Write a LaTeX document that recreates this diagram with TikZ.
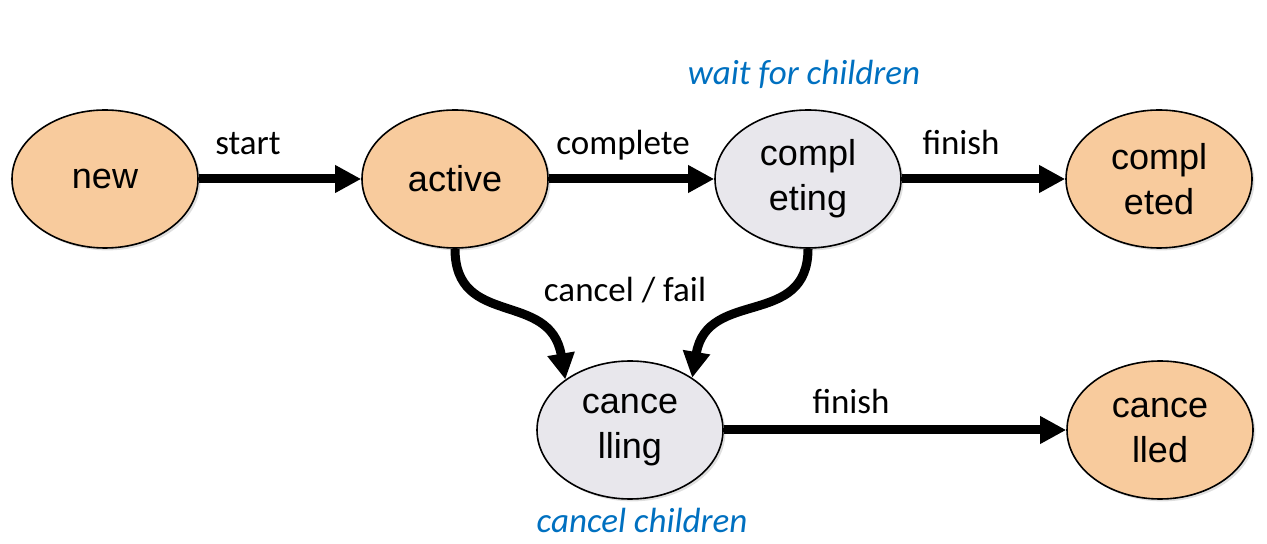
\documentclass[tikz,border=0pt]{standalone}
\usepackage{fontspec}
\setmainfont{Liberation Sans}
\newfontfamily\lblfont{Carlito}
\usetikzlibrary{arrows.meta,shapes.geometric,shadows}
\definecolor{peach}{RGB}{248,203,157}
\definecolor{mist}{RGB}{232,231,236}
\definecolor{note}{RGB}{0,112,192}

\begin{document}
\begin{tikzpicture}[x=0.5pt,y=-0.5pt,
      state/.style={ellipse,draw=black,line width=0.8pt,fill=peach,
                    minimum width=93pt,minimum height=69pt,inner sep=0pt,align=center,
                    font=\fontsize{18}{22.5}\selectfont,
                    drop shadow={shadow xshift=1.2pt,shadow yshift=-1.2pt,opacity=0.25}},
      busy/.style={state,fill=mist},
      ar/.style={-{Triangle[length=13pt,width=13pt]},line width=4.5pt},
      lbl/.style={anchor=base,font=\lblfont\fontsize{17.5}{21}\selectfont},
      hint/.style={lbl,text=note,font=\lblfont\itshape\fontsize{17.5}{21}\selectfont}]
      \useasboundingbox (0,0) rectangle (1267,544);
      \node[state] (new) at (105,179) {new};
      \node[state] (active) at (455,179) {active};
      \node[busy] (completing) at (808,179) {compl\\eting};
      \node[state] (completed) at (1159,179) {compl\\eted};
      \node[busy] (cancelling) at (630,430) {cance\\lling};
      \node[state] (cancelled) at (1160,430) {cance\\lled};
      \draw[ar] (new) -- (active); \draw[ar] (active) -- (completing);
      \draw[ar] (completing) -- (completed); \draw[ar] (cancelling) -- (cancelled);
      \draw[ar] (active.south) .. controls +(0,80) and +(-15,-90) .. (cancelling.142);
      \draw[ar] (completing.south) .. controls +(0,80) and +(15,-90) .. (cancelling.40);
      \node[lbl] (lstart) at (248,155) {start};
      \node[lbl] (lcomplete) at (623,155) {complete};
      \node[lbl] (lfinish) at (961,155) {finish};
      \node[lbl] (lcancel) at (625,302) {cancel / fail};
      \node[lbl] (lfinish2) at (851,414) {finish};
      \node[hint] (lwait) at (804,85) {wait for children};
      \node[hint] (lkids) at (642,532) {cancel children};
    \end{tikzpicture}
\end{document}
